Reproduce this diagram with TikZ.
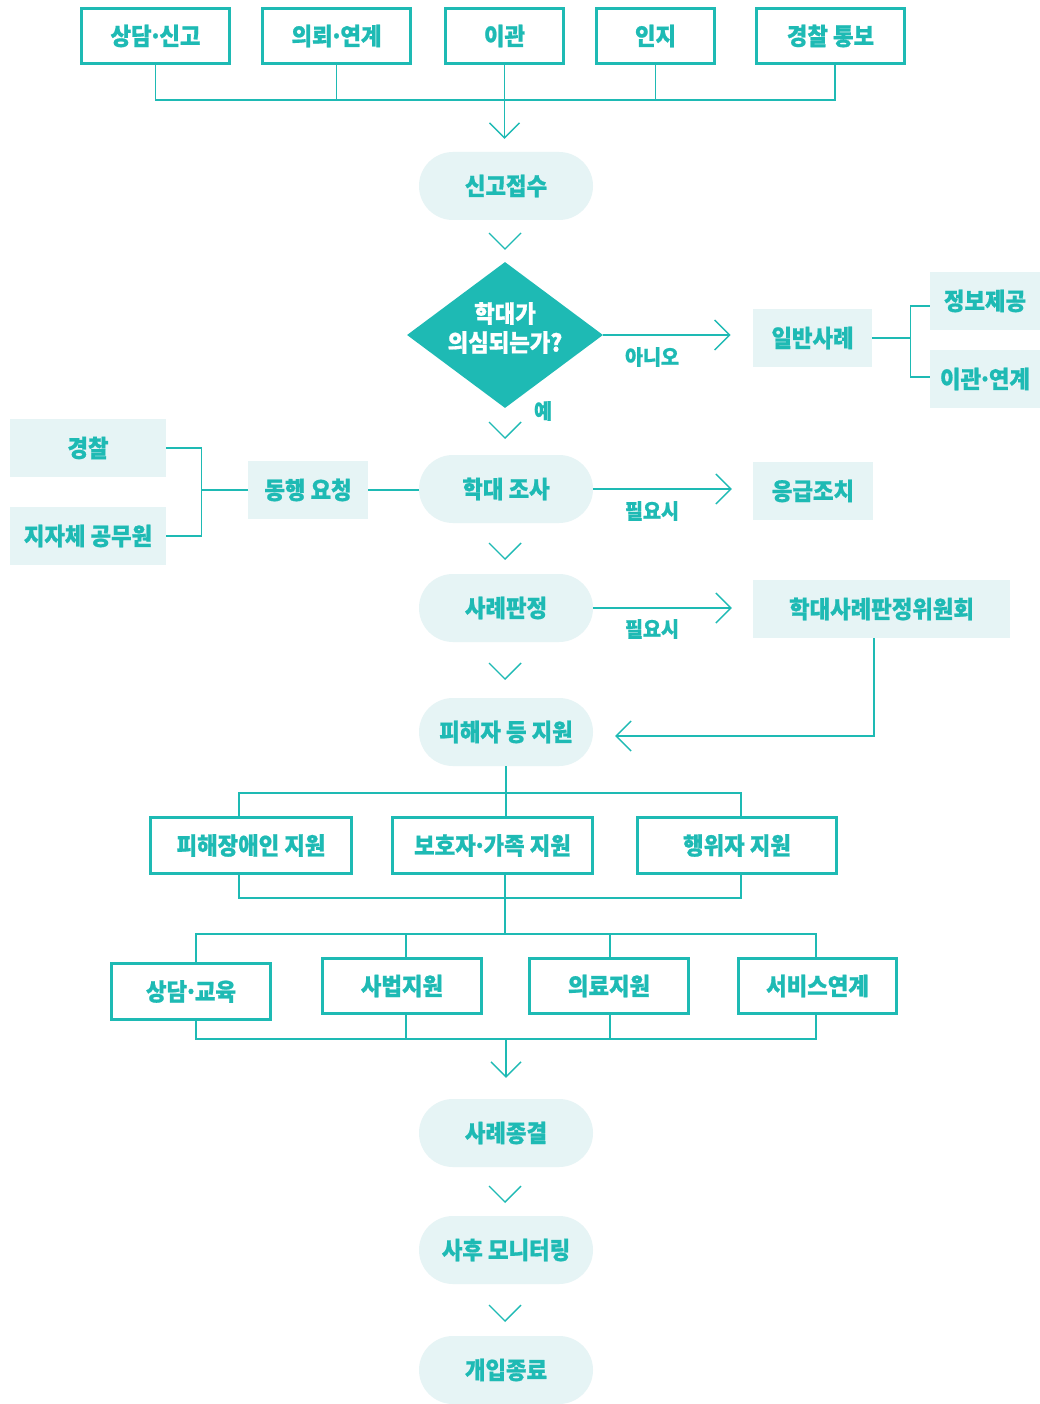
\documentclass[tikz,border=0pt]{standalone}
\usepackage{fontspec}
\setmainfont{Noto Sans CJK KR}[FakeStretch=0.93, BoldFeatures={FakeBold=0.8}]
\usetikzlibrary{shapes.geometric,arrows.meta,calc}
\definecolor{teal1}{HTML}{1EBAB4}
\definecolor{lightc}{HTML}{E6F4F5}
\newcommand\mdot{\kern-0.12em·\kern-0.12em}
\begin{document}
\begin{tikzpicture}[x=1pt,y=-1pt,
 every node/.style={inner sep=0pt, font=\bfseries\fontsize{24}{28}\selectfont, text=teal1},
 obox/.style={draw=teal1, line width=2.6pt, fill=white, minimum height=55.5pt},
 lbox/.style={fill=lightc, minimum height=58pt},
 pill/.style={fill=lightc, rounded corners=34pt, minimum width=174pt, minimum height=68pt},
 conn/.style={draw=teal1, line width=1.4pt},
 arr/.style={-{Straight Barb[length=15pt,width=30pt]}},
 lab/.style={font=\bfseries\fontsize{21}{23}\selectfont},
 chev/.pic={\draw[conn] (-16,-8) -- (0,8) -- (16,-8);}
]
\useasboundingbox (0,0) rectangle (1040,1404);
\fill[white] (0,0) rectangle (1040,1404);

% top row
\node[obox, minimum width=148.5pt] (t1) at (155.5,36) {상담\mdot 신고};
\node[obox, minimum width=148.5pt] (t2) at (336.5,36) {의뢰\mdot 연계};
\node[obox, minimum width=118.5pt] (t3) at (504.5,36) {이관};
\node[obox, minimum width=118.5pt] (t4) at (655.5,36) {인지};
\node[obox, minimum width=148.5pt] (t5) at (830.5,36) {경찰 통보};

% main pills
\node[pill] (jeobsu) at (506,186) {신고접수};
\node[diamond, aspect=1.34, fill=teal1, minimum width=196pt, minimum height=146pt] (dia) at (505,335) {};
\node[text=white, align=center, font=\bfseries\fontsize{24}{29}\selectfont] (diatext) at (505,328) {학대가\\의심되는가?};
\node[pill] (josa) at (506,489) {학대 조사};
\node[pill] (pan) at (506,608) {사례판정};
\node[pill] (victim) at (506,732) {피해자 등 지원};
\node[pill] (jong) at (506,1133) {사례종결};
\node[pill] (moni) at (506,1250) {사후 모니터링};
\node[pill] (end) at (506,1370) {개입종료};

% side boxes
\node[lbox, minimum width=119.5pt] (ilban) at (812.5,338) {일반사례};
\node[lbox, minimum width=110pt] (info) at (985,301) {정보제공};
\node[lbox, minimum width=110pt] (link) at (985,379) {이관\mdot 연계};
\node[lbox, minimum width=156pt] (police) at (88,448) {경찰};
\node[lbox, minimum width=156pt] (official) at (88,536) {지자체 공무원};
\node[lbox, minimum width=120pt] (dh) at (308,490) {동행 요청};
\node[lbox, minimum width=120pt] (emerg) at (813,491) {응급조치};
\node[lbox, minimum width=257pt] (comm) at (881.5,609) {학대사례판정위원회};

% support row A
\node[obox, minimum width=201.5pt] (s1) at (251,845.5) {피해장애인 지원};
\node[obox, minimum width=200.5pt] (s2) at (492.5,845.5) {보호자\mdot 가족 지원};
\node[obox, minimum width=199.5pt] (s3) at (737,845.5) {행위자 지원};

% support row B
\node[obox, minimum width=159.5pt] (b1) at (191,991.5) {상담\mdot 교육};
\node[obox, minimum width=158.5pt] (b2) at (402,986) {사법지원};
\node[obox, minimum width=158.5pt] (b3) at (609,986) {의료지원};
\node[obox, minimum width=158.5pt] (b4) at (817.5,986) {서비스연계};

% labels
\node[lab] (lno) at (652,357) {아니오};
\node[lab] (lyes) at (543,411) {예};
\node[lab] (lneed1) at (652,511) {필요시};
\node[lab] (lneed2) at (652,629) {필요시};

% top connectors
\draw[conn] (t1.south) -- ++(0,35) -| ($(t5.south)+(4.5,0)$);
\draw[conn] (t2.south) -- ++(0,35);
\draw[conn] (t4.south) -- ++(0,35);
\draw[conn, arr] (t3.south) -- ($(jeobsu.north)+(-1.5,-13)$);

% chevrons between steps
\pic at (505,241) {chev};
\pic at (505,430) {chev};
\pic at (505,551) {chev};
\pic at (505,671) {chev};
\pic at (505,1194) {chev};
\pic at (505,1313) {chev};

% no branch
\draw[conn, arr] (dia.east) -- ($(dia.east -| ilban.west)+(-22,0)$);
\draw[conn] (ilban.east) -- ++(38,0) coordinate (br);
\draw[conn] ($(info.west)+(0,5)$) -| (br) |- ($(link.west)+(0,-2)$);

% left bracket
\draw[conn] (police.east) -- ++(35,0) |- (official.east);
\draw[conn] (dh.west) -- ++(-47,0);
\draw[conn] (dh.east) -- (dh.east -| josa.west);

% optional branches
\draw[conn, arr] (josa.east) -- ($(josa.east -| emerg.west)+(-21,0)$);
\draw[conn, arr] (pan.east) -- ($(pan.east -| comm.west)+(-21,0)$);
\draw[conn, arr] ($(comm.south)+(-7.5,0)$) |- ($(victim.east)+(22,4)$);

% support tree row A
\coordinate (a1) at (239,793);
\coordinate (a3) at (741,793);
\draw[conn] (victim.south) -- (victim.south |- s2.north);
\draw[conn] (a1 |- s1.north) -- (a1) -- (a3) -- (a3 |- s3.north);
\coordinate (d1) at (239,898);
\coordinate (d2) at (505,898);
\coordinate (d3) at (741,898);
\draw[conn] (d1 |- s1.south) -- (d1) -- (d3) -- (d3 |- s3.south);
\draw[conn] (d2 |- s2.south) -- (d2) -- (505,934) coordinate (e0);

% support tree row B
\coordinate (e1) at (196,934);
\coordinate (e2) at (406,934);
\coordinate (e3) at (610,934);
\coordinate (e4) at (816,934);
\draw[conn] (e1 |- b1.north) -- (e1) -- (e4) -- (e4 |- b4.north);
\draw[conn] (e2) -- (e2 |- b2.north);
\draw[conn] (e3) -- (e3 |- b3.north);
\coordinate (f1) at (196,1039);
\coordinate (f2) at (406,1039);
\coordinate (f3) at (610,1039);
\coordinate (f4) at (816,1039);
\draw[conn] (f1 |- b1.south) -- (f1) -- (f4) -- (f4 |- b4.south);
\draw[conn] (f2 |- b2.south) -- (f2);
\draw[conn] (f3 |- b3.south) -- (f3);
\draw[conn, arr] (506,1039) -- ($(jong.north)+(0,-21)$);
\end{tikzpicture}
\end{document}
